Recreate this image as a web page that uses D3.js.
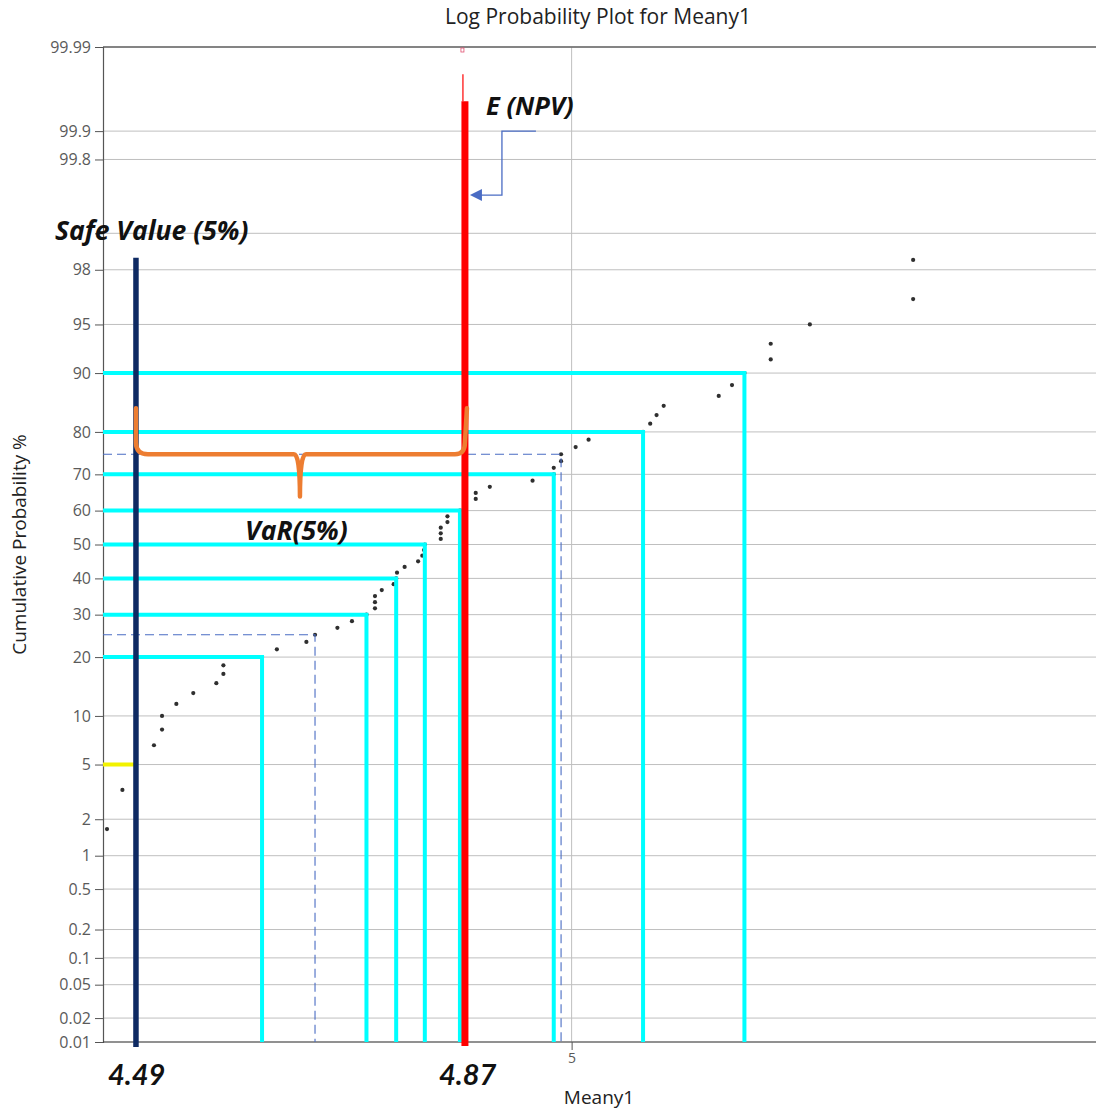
<!DOCTYPE html>
<html>
<head>
<meta charset="utf-8">
<script src="https://cdn.jsdelivr.net/npm/d3@7"></script>
<style>
  body { margin: 0; background: #fff; }
  svg { display: block; }
</style>
</head>
<body>
<svg id="chart" width="1096" height="1110"></svg>
<script>
// Meany1 sample, sorted ascending
const meany1 = [
  4.458, 4.475, 4.490, 4.510, 4.519, 4.519, 4.535, 4.554, 4.580, 4.588,
  4.588, 4.632, 4.649, 4.683, 4.693, 4.719, 4.736, 4.753, 4.763, 4.763,
  4.763, 4.771, 4.785, 4.788, 4.789, 4.798, 4.814, 4.819, 4.821, 4.822,
  4.841, 4.841, 4.841, 4.849, 4.849, 4.864, 4.870, 4.883, 4.883, 4.900,
  4.952, 4.978, 4.978, 4.987, 4.987, 5.005, 5.021, 5.089, 5.098, 5.106,
  5.115, 5.185, 5.202, 5.218, 5.252, 5.252, 5.303, 5.440, 5.440
];
// cumulative probability (%) of each sorted value
const cumPct = [
  1.67, 3.33, 5, 6.67, 8.33, 10, 11.67, 13.33, 15, 16.67,
  18.33, 20, 21.67, 23.33, 25, 26.67, 28.33, 30, 31.67, 33.33,
  35, 36.67, 38.33, 40, 41.67, 43.33, 45, 46.67, 48.33, 50,
  51.67, 53.33, 55, 56.67, 58.33, 60, 61.67, 63.33, 65, 66.67,
  68.33, 70, 71.67, 73.33, 75, 76.67, 78.33, 80, 81.67, 83.33,
  85, 86.67, 88.33, 90, 91.67, 93.33, 95, 96.67, 98.33
];

// probability axis
const probTicks = [0.01, 0.02, 0.05, 0.1, 0.2, 0.5, 1, 2, 5, 10, 20, 30, 40, 50,
                   60, 70, 80, 90, 95, 98, 99, 99.8, 99.9, 99.99];
const probTickLabels = ["0.01", "0.02", "0.05", "0.1", "0.2", "0.5", "1", "2", "5", "10",
                        "20", "30", "40", "50", "60", "70", "80", "90", "95", "98", "",
                        "99.8", "99.9", "99.99"];
const xTicks = [5];
const xTickLabels = ["5"];

// percentile read-offs (deciles 20..90) and quartiles
const decilePct = [20, 30, 40, 50, 60, 70, 80, 90];
const decileVal = [4.632, 4.753, 4.788, 4.822, 4.864, 4.978, 5.089, 5.218];
const quartilePct = [25, 75];
const quartileVal = [4.693, 4.987];

// risk markers
const safePct = 5;
const safeValue = 4.49;     // 5% quantile
const safeTopPct = 98.4;
const expectedNpv = 4.87;   // E(NPV)
const npvTopPct = 99.954;
const npvThinTopPct = 99.978;
const braceLevelPct = 75, braceEndPct = 84.6, braceTipPct = 64;
const calloutPct = 99.9, calloutTurnPct = 99.55;

const xDomain = [4.4536, 5.711];

// inverse standard normal CDF (Acklam)
function probit(p) {
  const a = [-3.969683028665376e+01, 2.209460984245205e+02, -2.759285104469687e+02,
             1.383577518672690e+02, -3.066479806614716e+01, 2.506628277459239e+00];
  const b = [-5.447609879822406e+01, 1.615858368580409e+02, -1.556989798598866e+02,
             6.680131188771972e+01, -1.328068155288572e+01];
  const c = [-7.784894002430293e-03, -3.223964580411365e-01, -2.400758277161838e+00,
             -2.549732539343734e+00, 4.374664141464968e+00, 2.938163982698783e+00];
  const d = [7.784695709041462e-03, 3.224671290700398e-01, 2.445134137142996e+00,
             3.754408661907416e+00];
  const pl = 0.02425, ph = 1 - pl;
  let q, r;
  if (p < pl) {
    q = Math.sqrt(-2 * Math.log(p));
    return (((((c[0]*q+c[1])*q+c[2])*q+c[3])*q+c[4])*q+c[5]) /
           ((((d[0]*q+d[1])*q+d[2])*q+d[3])*q+1);
  }
  if (p <= ph) {
    q = p - 0.5; r = q * q;
    return (((((a[0]*r+a[1])*r+a[2])*r+a[3])*r+a[4])*r+a[5])*q /
           (((((b[0]*r+b[1])*r+b[2])*r+b[3])*r+b[4])*r+1);
  }
  q = Math.sqrt(-2 * Math.log(1 - p));
  return -(((((c[0]*q+c[1])*q+c[2])*q+c[3])*q+c[4])*q+c[5]) /
          ((((d[0]*q+d[1])*q+d[2])*q+d[3])*q+1);
}

const svg = d3.select("#chart");
const plot = { left: 103, top: 47, right: 1110, bottom: 1042 };

const x = d3.scaleLog().domain(xDomain).range([plot.left, plot.right]);
const yz = d3.scaleLinear()
  .domain([probit(0.0001), probit(0.9999)])
  .range([plot.bottom, plot.top]);
const yP = p => yz(probit(p / 100));

const CYAN = "#00ffff", NAVY = "#0e2a63", RED = "#ff0000",
      ORANGE = "#ed7d31", BLUE = "#4a6cc4", YELLOW = "#f2f200";

// gridlines
const grid = svg.append("g").attr("stroke", "#bfbfbf").attr("stroke-width", 1);
grid.selectAll("line.h").data(probTicks).join("line")
  .attr("x1", plot.left).attr("x2", plot.right)
  .attr("y1", d => yP(d)).attr("y2", d => yP(d));
grid.selectAll("line.v").data(xTicks).join("line")
  .attr("x1", d => x(d)).attr("x2", d => x(d))
  .attr("y1", plot.top).attr("y2", plot.bottom);

// top frame line
svg.append("line")
  .attr("x1", plot.left).attr("x2", plot.right)
  .attr("y1", plot.top).attr("y2", plot.top)
  .attr("stroke", "#666").attr("stroke-width", 1.5);

// axes
const yAxis = d3.axisLeft(yz)
  .tickValues(probTicks.map(p => probit(p / 100)))
  .tickFormat((d, i) => probTickLabels[i])
  .tickSize(8).tickPadding(4);
const gy = svg.append("g").attr("transform", `translate(${plot.left},0)`).call(yAxis);
gy.select(".domain").attr("stroke", "#555").attr("stroke-width", 1.2);
gy.selectAll(".tick line").attr("stroke", "#555");
gy.selectAll(".tick text")
  .attr("fill", "#5a5a5a")
  .style("font-family", "'Open Sans', sans-serif")
  .style("font-size", "16px");

const xAxis = d3.axisBottom(x)
  .tickValues(xTicks)
  .tickFormat((d, i) => xTickLabels[i])
  .tickSize(8).tickPadding(3);
const gx = svg.append("g").attr("transform", `translate(0,${plot.bottom})`).call(xAxis);
gx.select(".domain").attr("d", `M${plot.left},0H${plot.right}`)
  .attr("stroke", "#444").attr("stroke-width", 1.2);
gx.selectAll(".tick line").attr("stroke", "#555");
gx.selectAll(".tick text")
  .attr("fill", "#5a5a5a")
  .style("font-family", "'Open Sans', sans-serif")
  .style("font-size", "14px");

// data points
svg.append("g").selectAll("circle").data(meany1).join("circle")
  .attr("cx", d => x(d))
  .attr("cy", (d, i) => yP(cumPct[i]))
  .attr("r", 2.1)
  .attr("fill", "#2f2f2f");

// quartile read-offs (dashed)
const dash = svg.append("g")
  .attr("fill", "none").attr("stroke", BLUE)
  .attr("stroke-width", 1.1).attr("stroke-dasharray", "9,5");
dash.selectAll("path").data(quartilePct).join("path")
  .attr("d", (p, i) => `M${plot.left},${yP(p)}H${x(quartileVal[i])}V${plot.bottom}`);

// decile read-offs
const cy = svg.append("g")
  .attr("fill", "none").attr("stroke", CYAN).attr("stroke-width", 4);
cy.selectAll("path").data(decilePct).join("path")
  .attr("d", (p, i) => `M${plot.left},${yP(p)}H${x(decileVal[i])}V${plot.bottom}`);

// 5% level to safe value
svg.append("line")
  .attr("x1", plot.left).attr("x2", x(safeValue))
  .attr("y1", yP(safePct)).attr("y2", yP(safePct))
  .attr("stroke", YELLOW).attr("stroke-width", 4);

// safe value line
svg.append("line")
  .attr("x1", x(safeValue)).attr("x2", x(safeValue))
  .attr("y1", yP(safeTopPct)).attr("y2", plot.bottom + 5)
  .attr("stroke", NAVY).attr("stroke-width", 5.5);

// E(NPV) line
const xe = x(expectedNpv);
svg.append("line")
  .attr("x1", xe - 2).attr("x2", xe - 2)
  .attr("y1", yP(npvThinTopPct)).attr("y2", yP(npvTopPct))
  .attr("stroke", RED).attr("stroke-width", 1.2);
svg.append("rect")
  .attr("x", xe - 4).attr("y", plot.top + 1).attr("width", 3).attr("height", 4)
  .attr("fill", "none").attr("stroke", "#e05070").attr("stroke-width", 0.8);
svg.append("line")
  .attr("x1", xe).attr("x2", xe)
  .attr("y1", yP(npvTopPct)).attr("y2", plot.bottom + 4)
  .attr("stroke", RED).attr("stroke-width", 7);

// brace spanning VaR(5%)
const bx0 = x(safeValue), bx1 = x(expectedNpv), bxm = (bx0 + bx1) / 2 - 0.5;
const by = yP(braceLevelPct), byTop = yP(braceEndPct), byTip = yP(braceTipPct);
const bracePath = [
  `M${bx0},${byTop}`,
  `L${bx0},${by - 12}`,
  `Q${bx0},${by} ${bx0 + 12},${by}`,
  `L${bxm - 6},${by}`,
  `Q${bxm},${by} ${bxm},${byTip}`,
  `Q${bxm},${by} ${bxm + 6},${by}`,
  `L${bx1 - 10},${by}`,
  `Q${bx1},${by} ${bx1},${by - 12}`,
  `L${bx1 + 2},${byTop}`
].join(" ");
svg.append("path")
  .attr("d", bracePath)
  .attr("fill", "none").attr("stroke", ORANGE)
  .attr("stroke-width", 4.5).attr("stroke-linejoin", "round").attr("stroke-linecap", "round");

// callout arrow to E(NPV)
const cyTop = yP(calloutPct), cyTurn = yP(calloutTurnPct);
svg.append("path")
  .attr("d", `M${xe + 71},${cyTop}H${xe + 37}V${cyTurn}H${xe + 14}`)
  .attr("fill", "none").attr("stroke", BLUE).attr("stroke-width", 1.3);
svg.append("path")
  .attr("d", `M${xe + 5},${cyTurn}L${xe + 17},${cyTurn - 6}L${xe + 17},${cyTurn + 6}Z`)
  .attr("fill", BLUE);

// titles
svg.append("text")
  .attr("x", 598).attr("y", 24).attr("text-anchor", "middle")
  .style("font-family", "'Open Sans', sans-serif").style("font-size", "21px")
  .attr("fill", "#222")
  .text("Log Probability Plot for Meany1");
svg.append("text")
  .attr("transform", `translate(26,${(plot.top + plot.bottom) / 2}) rotate(-90)`)
  .attr("text-anchor", "middle")
  .style("font-family", "'Open Sans', sans-serif").style("font-size", "19px")
  .attr("fill", "#222")
  .text("Cumulative Probability %");
svg.append("text")
  .attr("x", 599).attr("y", 1104).attr("text-anchor", "middle")
  .style("font-family", "'Open Sans', sans-serif").style("font-size", "19px")
  .attr("fill", "#222")
  .text("Meany1");

// annotations
const note = (txt, xx, yy, size, fam) => svg.append("text")
  .attr("x", xx).attr("y", yy)
  .style("font-family", fam)
  .style("font-weight", "bold").style("font-style", "italic")
  .style("font-size", size + "px")
  .attr("fill", "#111")
  .text(txt);
const OPEN = "'Open Sans', sans-serif", LATO = "Lato, 'Open Sans', sans-serif";
note("Safe Value (5%)", 55, 240, 26.5, OPEN);
note("E (NPV)", 486, 115, 25.5, OPEN);
note("VaR(5%)", 245, 540, 26.5, OPEN);
note(d3.format(".2f")(safeValue), bx0 - 28, 1085, 29, LATO);
note(d3.format(".2f")(expectedNpv), bx1 - 26, 1085, 29, LATO);
</script>
</body>
</html>
